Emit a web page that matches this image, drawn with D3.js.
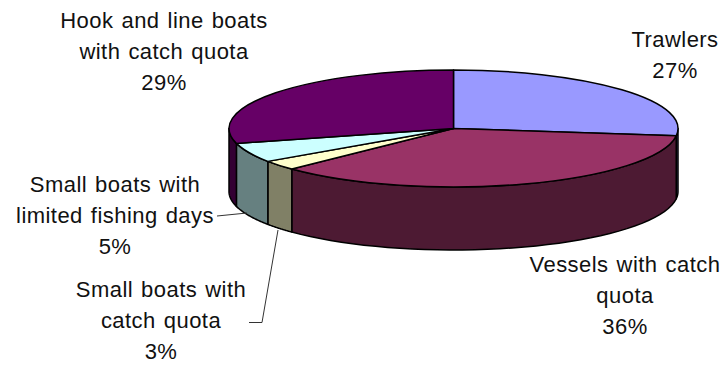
<!DOCTYPE html>
<html><head><meta charset="utf-8">
<script src="https://cdn.jsdelivr.net/npm/d3@7/dist/d3.min.js"></script>
<style>html,body{margin:0;background:#fff}svg{display:block}text{font-family:"Liberation Sans",Arial,sans-serif;font-size:22px;letter-spacing:.45px;word-spacing:1.5px;fill:#111}</style>
</head><body><svg id="c" width="728" height="365"></svg>
<script>
const categories=["Trawlers","Vessels with catch quota","Small boats with catch quota","Small boats with limited fishing days","Hook and line boats with catch quota"];
const shares=[27,35.8,2.7,5.4,29.1];
const topColors=["#9999FF","#993366","#FFFFCC","#CCFFFF","#660066"];
const sideColors=["#4D4D80","#4D1A33","#808066","#668080","#330033"];
const labelLines=[["Trawlers"],["Vessels with catch","quota"],["Small boats with","catch quota"],["Small boats with","limited fishing days"],["Hook and line boats","with catch quota"]];
const labelAnchors=[[675,47],[625,272],[161,297],[115,192],[164,28]];

const W=728,H=365,cx=453.5,cy=128.5,rx=224.5,ry=58.5,depth=63;
const svg=d3.select("#c");
const pie=d3.pie().sort(null).value(d=>d)(shares);
const px=a=>cx+rx*Math.sin(a), py=a=>cy-ry*Math.cos(a);
const HALF=Math.PI/2;

const sideG=svg.append("g");
pie.forEach((s,i)=>{
  const a0=Math.max(s.startAngle,HALF), a1=Math.min(s.endAngle,3*HALF);
  if(a1<=a0) return;
  const as=d3.range(0,41).map(k=>a0+(a1-a0)*k/40);
  const top=as.map(a=>[px(a),py(a)]);
  const bot=as.slice().reverse().map(a=>[px(a),py(a)+depth]);
  sideG.append("path").attr("d",d3.line()(top.concat(bot))+"Z")
    .attr("fill",sideColors[i]).attr("stroke","#000").attr("stroke-width",1.5).attr("stroke-linejoin","round");
});

const arc=d3.arc().innerRadius(0).outerRadius(rx);
svg.append("g").attr("transform",`translate(${cx},${cy}) scale(1,${ry/rx})`)
  .selectAll("path").data(pie).join("path")
  .attr("d",arc).attr("fill",(d,i)=>topColors[i])
  .attr("stroke","#000").attr("stroke-width",1.5).attr("stroke-linejoin","round")
  .attr("vector-effect","non-scaling-stroke");

const leader=d3.line();
svg.append("path").attr("d",leader([[217,216],[247,213]])).attr("fill","none").attr("stroke","#333").attr("stroke-width",1);
svg.append("path").attr("d",leader([[249,322.5],[262,322.5],[278,230]])).attr("fill","none").attr("stroke","#333").attr("stroke-width",1);

const lh=31;
categories.forEach((c,i)=>{
  const t=svg.append("text").attr("text-anchor","middle");
  const [x,y]=labelAnchors[i];
  labelLines[i].concat(Math.round(shares[i])+"%").forEach((l,k)=>{
    t.append("tspan").attr("x",x).attr("y",y+k*lh).text(l);
  });
});
</script></body></html>
